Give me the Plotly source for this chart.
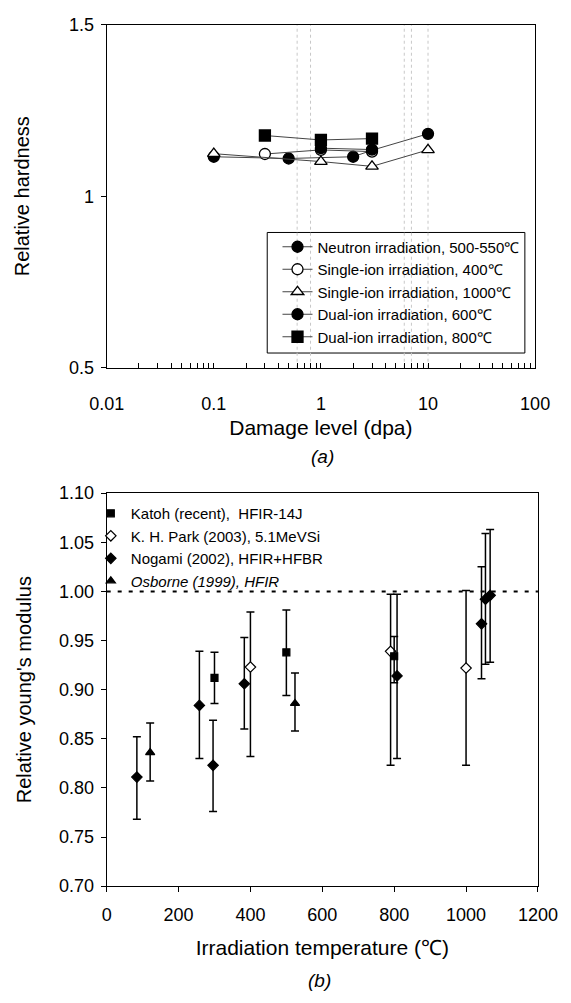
import plotly.graph_objects as go

# ---------------- data: panel (a) ----------------
neutron_x = [0.1, 0.5, 2, 3, 10]
neutron_y = [1.115, 1.110, 1.115, 1.134, 1.182]
single400_x = [0.3, 1, 3]
single400_y = [1.123, 1.135, 1.130]
single1000_x = [0.1, 1, 3, 10]
single1000_y = [1.124, 1.101, 1.087, 1.135]
dual600_x = [1, 3]
dual600_y = [1.140, 1.136]
dual800_x = [0.3, 1, 3]
dual800_y = [1.177, 1.164, 1.168]

top_series_names = [
    "Neutron irradiation, 500-550℃",
    "Single-ion irradiation, 400℃",
    "Single-ion irradiation, 1000℃",
    "Dual-ion irradiation, 600℃",
    "Dual-ion irradiation, 800℃",
]
decade_vals = [0.01, 0.1, 1, 10, 100]
decade_text = ["0.01", "0.1", "1", "10", "100"]
top_y_ticks = [0.5, 1, 1.5]
top_y_text = ["0.5", "1", "1.5"]
scan_lines_x = [0.6, 0.8, 6.0, 7.0, 10.0]

# ---------------- data: panel (b) ----------------
katoh_T = [300, 500, 800]
katoh_y = [0.912, 0.938, 0.934]
katoh_hi = [0.938, 0.981, 0.954]
katoh_lo = [0.886, 0.894, 0.907]

park_T = [400, 790, 1000]
park_y = [0.923, 0.939, 0.922]
park_hi = [0.979, 0.997, 1.001]
park_lo = [0.832, 0.823, 0.823]

nogami_T = [84, 258, 296, 383, 808, 1043, 1054, 1067]
nogami_y = [0.811, 0.884, 0.823, 0.906, 0.914, 0.967, 0.992, 0.996]
nogami_hi = [0.852, 0.939, 0.869, 0.953, 0.997, 1.025, 1.059, 1.063]
nogami_lo = [0.768, 0.830, 0.776, 0.860, 0.830, 0.911, 0.926, 0.928]

osborne_T = [121, 524]
osborne_y = [0.836, 0.886]
osborne_hi = [0.866, 0.917]
osborne_lo = [0.807, 0.858]

bottom_series_names = [
    "Katoh (recent),  HFIR-14J",
    "K. H. Park (2003), 5.1MeVSi",
    "Nogami (2002), HFIR+HFBR",
    "<i>Osborne (1999), HFIR</i>",
]
reference_level = 1.0

FONT = "Liberation Sans, Arial, Helvetica, sans-serif"
W, H = 571, 1003

def px_x(p):
    return p / W

def px_y(p):
    return 1 - p / H

fig = go.Figure()

# ---------------- panel (a) traces ----------------
line_style = dict(color="#444444", width=1)
top_specs = [
    (neutron_x, neutron_y, "circle", "black"),
    (single400_x, single400_y, "circle", "white"),
    (single1000_x, single1000_y, "triangle-up", "white"),
    (dual600_x, dual600_y, "circle", "black"),
    (dual800_x, dual800_y, "square", "black"),
]
for (xs, ys, sym, fill), name in zip(top_specs, top_series_names):
    fig.add_trace(go.Scatter(
        x=xs, y=ys, mode="lines+markers", name=name,
        line=line_style,
        marker=dict(symbol=sym, size=11, color=fill,
                    line=dict(color="black", width=1.3)),
        xaxis="x", yaxis="y", legend="legend",
    ))

# ---------------- panel (b) traces ----------------
def err(y, hi, lo):
    return [h - v for h, v in zip(hi, y)], [v - l for v, l in zip(y, lo)]

bottom_specs = [
    (park_T, park_y, park_hi, park_lo, "diamond", "white", 8, 1),
    (katoh_T, katoh_y, katoh_hi, katoh_lo, "square", "black", 7, 0),
    (nogami_T, nogami_y, nogami_hi, nogami_lo, "diamond", "black", 8, 2),
    (osborne_T, osborne_y, osborne_hi, osborne_lo, "triangle-up", "black", 8, 3),
]
for xs, ys, hi, lo, sym, fill, size, idx in bottom_specs:
    up, down = err(ys, hi, lo)
    fig.add_trace(go.Scatter(
        x=xs, y=ys, mode="markers", name=bottom_series_names[idx],
        marker=dict(symbol=sym, size=size, color=fill,
                    line=dict(color="black", width=1.2)),
        error_y=dict(type="data", symmetric=False, array=up, arrayminus=down,
                     color="black", thickness=1.5, width=4),
        xaxis="x2", yaxis="y2", legend="legend2", legendrank=idx + 1,
    ))

axis_common = dict(showline=True, linecolor="black", linewidth=1, mirror=True,
                   showgrid=False, zeroline=False,
                   tickfont=dict(family=FONT, size=18, color="black"))

minor_vals = []
minor_text = []
for d, t in zip(decade_vals, decade_text):
    for m in range(1, 10):
        v = d * m
        if v > 100:
            break
        minor_vals.append(v)
        minor_text.append(t if m == 1 else "")

fig.update_layout(
    width=W, height=H,
    margin=dict(l=0, r=0, t=0, b=0),
    paper_bgcolor="white", plot_bgcolor="white",
    font=dict(family=FONT, color="black"),
    xaxis=dict(axis_common, type="log", range=[-2, 2],
               domain=[px_x(95), px_x(554)], anchor="y",
               tickmode="array", tickvals=minor_vals, ticktext=minor_text,
               ticks="inside", ticklen=5, tickcolor="black",
               ticklabelstandoff=20,
               title=dict(text="Damage level (dpa)",
                          font=dict(family=FONT, size=21), standoff=6)),
    yaxis=dict(axis_common, range=[0.5, 1.5],
               domain=[px_y(365), px_y(15)], anchor="x",
               tickmode="array", tickvals=top_y_ticks, ticktext=top_y_text,
               ticks="outside", ticklen=5, tickcolor="black",
               ticklabelstandoff=3,
               title=dict(text="Relative hardness",
                          font=dict(family=FONT, size=20), standoff=34)),
    xaxis2=dict(axis_common, range=[0, 1200], dtick=200,
                domain=[px_x(95), px_x(557)], anchor="y2",
                ticks="outside", ticklen=5, tickcolor="black",
                ticklabelstandoff=7,
                title=dict(text="Irradiation temperature (℃)",
                           font=dict(family=FONT, size=21), standoff=16)),
    yaxis2=dict(axis_common, range=[0.70, 1.10], dtick=0.05, tickformat=".2f",
                domain=[px_y(894), px_y(493)], anchor="x2",
                ticks="outside", ticklen=5, tickcolor="black",
                ticklabelstandoff=3,
                title=dict(text="Relative young's modulus",
                           font=dict(family=FONT, size=20), standoff=22)),
    legend=dict(x=px_x(278), y=px_y(225), xanchor="left", yanchor="top",
                bgcolor="rgba(0,0,0,0)", borderwidth=0,
                font=dict(family=FONT, size=15, color="black"),
                itemwidth=30, tracegroupgap=0),
    legend2=dict(x=px_x(78), y=px_y(497), xanchor="left", yanchor="top",
                 bgcolor="rgba(0,0,0,0)", borderwidth=0,
                 font=dict(family=FONT, size=15, color="black"),
                 itemwidth=30, traceorder="normal"),
    showlegend=True,
)

# legend frame of panel (a)
fig.add_shape(type="rect", xref="paper", yref="paper",
              x0=px_x(267), x1=px_x(543), y0=px_y(350), y1=px_y(227),
              line=dict(color="black", width=1), fillcolor="white", layer="below")

# faint vertical scan lines in panel (a)
for xv in scan_lines_x:
    fig.add_shape(type="line", xref="x", yref="y domain", x0=xv, x1=xv,
                  y0=0, y1=1, line=dict(color="#c8c8c8", width=1, dash="dot"),
                  layer="below")

# reference line at 1.00 in panel (b)
fig.add_shape(type="line", xref="x2 domain", yref="y2", x0=0, x1=1,
              y0=reference_level, y1=reference_level,
              line=dict(color="black", width=2, dash="4px,7px"))

# panel labels
fig.add_annotation(text="<i>(a)</i>", xref="paper", yref="paper",
                   x=px_x(326), y=px_y(456), showarrow=False,
                   xanchor="center", yanchor="middle",
                   font=dict(family=FONT, size=19))
fig.add_annotation(text="<i>(b)</i>", xref="paper", yref="paper",
                   x=px_x(323), y=px_y(990), showarrow=False,
                   xanchor="center", yanchor="middle",
                   font=dict(family=FONT, size=19))

fig.write_html("out.html")
